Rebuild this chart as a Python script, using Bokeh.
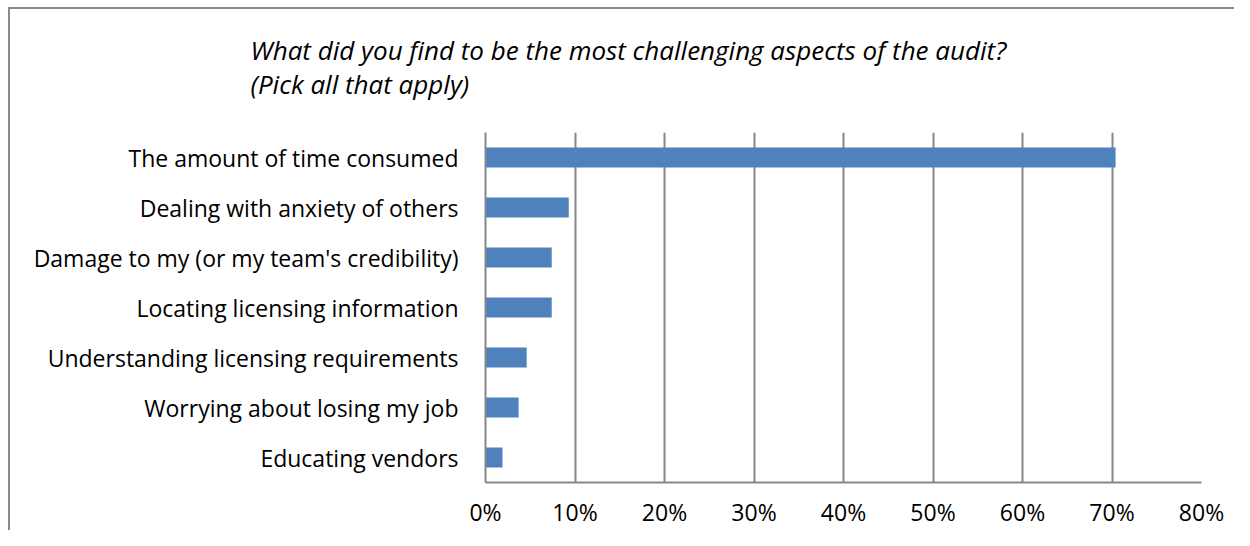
from bokeh.plotting import figure
from bokeh.models import Range1d, FactorRange, FixedTicker, NumeralTickFormatter, Title
from bokeh.embed import file_html
from bokeh.resources import INLINE

categories = [
    "The amount of time consumed",
    "Dealing with anxiety of others",
    "Damage to my (or my team's credibility)",
    "Locating licensing information",
    "Understanding licensing requirements",
    "Worrying about losing my job",
    "Educating vendors",
]
values = [0.704, 0.093, 0.074, 0.074, 0.046, 0.037, 0.019]
x_ticks = [0.0, 0.1, 0.2, 0.3, 0.4, 0.5, 0.6, 0.7, 0.8]
title_text = "What did you find to be the most challenging aspects of the audit?\n(Pick all that apply)"

FONT = "Open Sans"
GRID = "#878787"

p = figure(
    width=1234, height=530,
    y_range=FactorRange(factors=list(reversed(categories))),
    x_range=Range1d(0, 0.8),
    output_backend="svg", toolbar_location=None,
    min_border_left=485, min_border_right=33, min_border_top=131, min_border_bottom=47,
)
p.border_fill_color = None
p.background_fill_color = "white"
p.styles = {
    "background-color": "white",
    "background-image": "linear-gradient(#8a8a8a,#8a8a8a), linear-gradient(#8a8a8a,#8a8a8a)",
    "background-size": "2px 100%, 100% 2px",
    "background-position": "8px 7px, 8px 7px",
    "background-repeat": "no-repeat",
}
p.outline_line_color = None

t = Title(text=title_text, align="left", offset=-235, standoff=60,
          text_font=FONT, text_font_style="italic", text_font_size="26px",
          text_color="#000000", text_line_height=0.95)
p.add_layout(t, "above")

p.hbar(y=categories, right=values, left=0, height=0.4, fill_color="#4F81BD", line_color=None)

p.xaxis.ticker = FixedTicker(ticks=x_ticks)
p.xaxis.formatter = NumeralTickFormatter(format="0%")
p.xgrid.ticker = FixedTicker(ticks=x_ticks)
p.xgrid.grid_line_color = GRID
p.xgrid.grid_line_width = 2
p.ygrid.grid_line_color = None

for ax in (p.xaxis, p.yaxis):
    ax.axis_line_color = GRID
    ax.axis_line_width = 2
    ax.major_tick_line_color = None
    ax.minor_tick_line_color = None
    ax.major_label_text_font = FONT
    ax.major_label_text_font_size = "23px"
    ax.major_label_text_color = "#000000"
p.xaxis.major_label_standoff = 7
p.yaxis.major_label_standoff = 21

open("out.html", "w").write(file_html(p, INLINE))
